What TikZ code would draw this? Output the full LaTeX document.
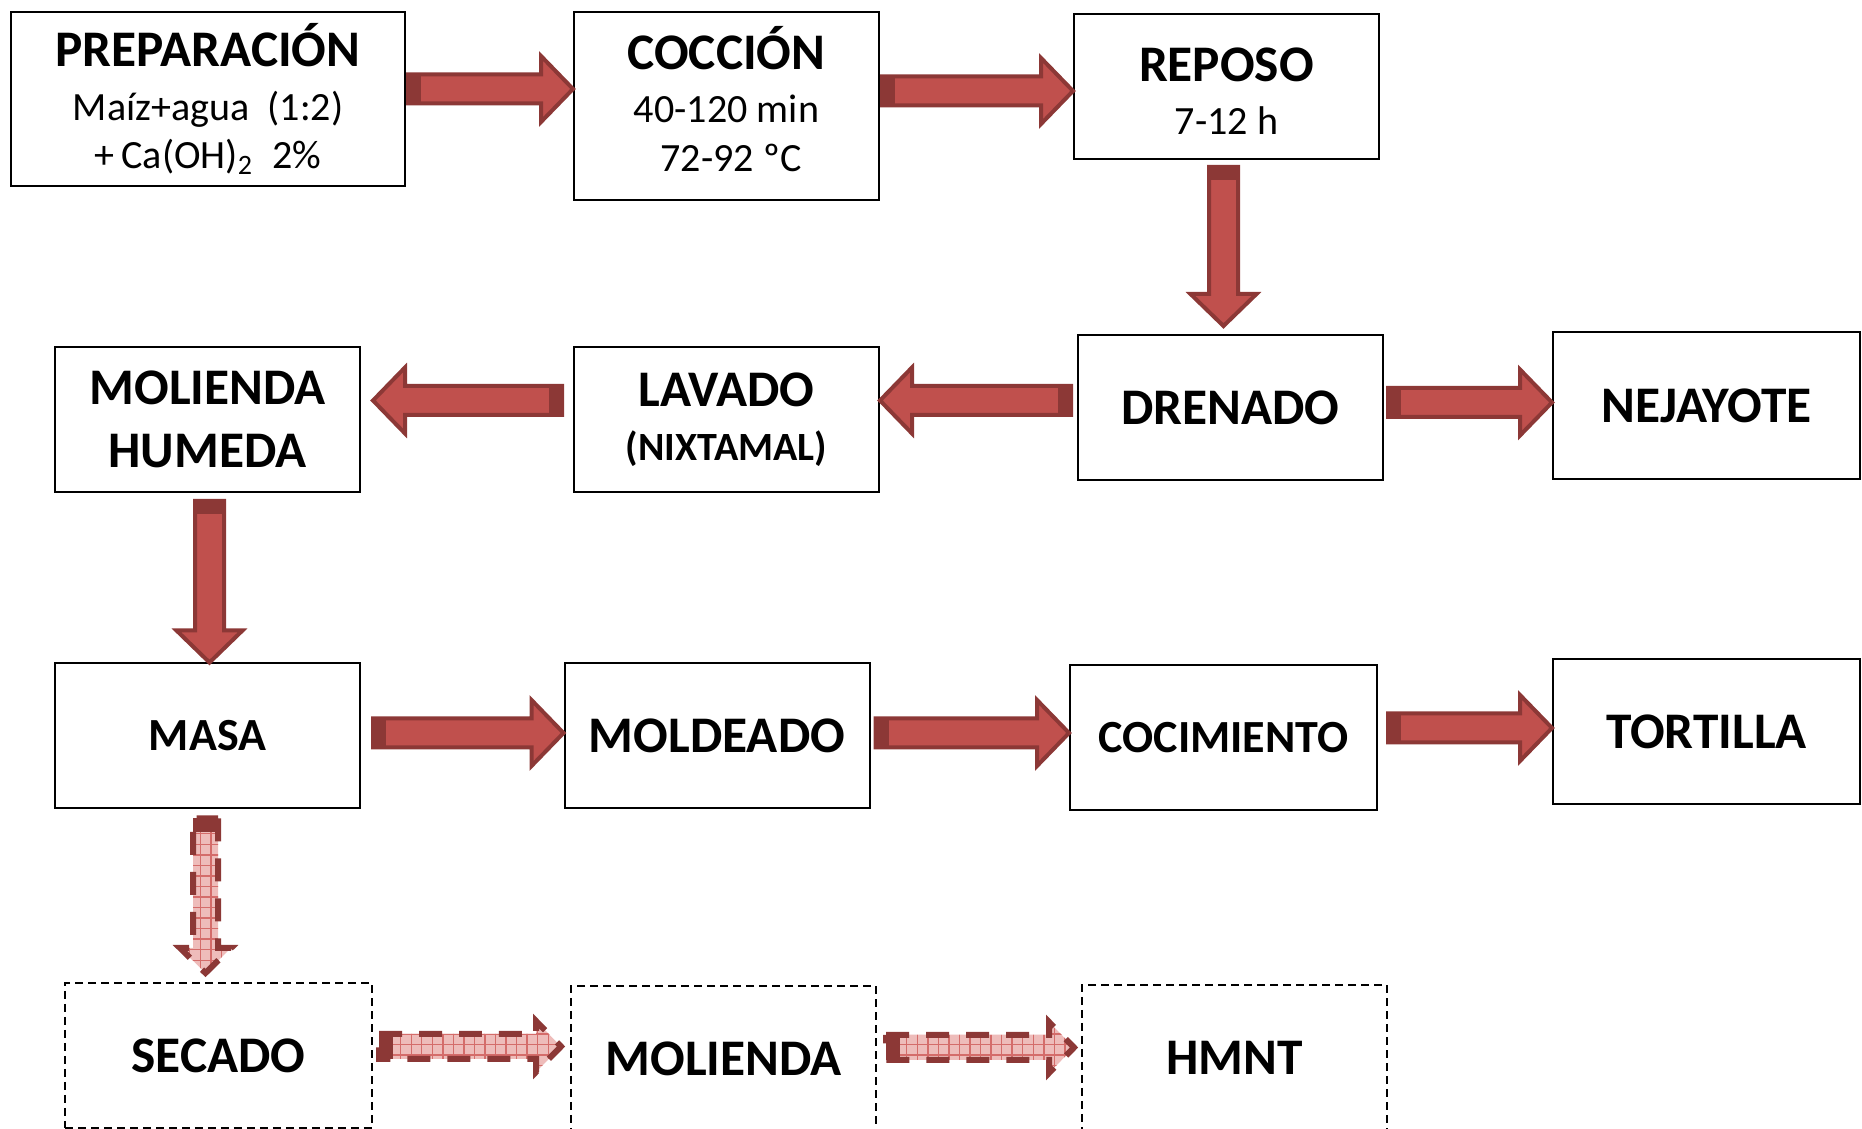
\documentclass[tikz,border=0pt]{standalone}
\usepackage{fontspec}
\setmainfont{Carlito}
\usetikzlibrary{calc, patterns, positioning}
\definecolor{cArrow}{RGB}{192,80,77}
\definecolor{cEdge}{RGB}{140,56,54}
\definecolor{cPink}{RGB}{238,188,186}
\definecolor{cGrid}{RGB}{212,108,106}

\newcommand{\stagefont}{\fontsize{14.6}{17.9}\selectfont\bfseries}
\newcommand{\notefont}{\fontsize{11.4}{13.9}\selectfont\mdseries}

% fat block arrow: style, shaft half width, head half width, head length, tail cap, start, end
\newcommand{\fatarrow}[7]{%
  \coordinate (fa-s) at #6;
  \coordinate (fa-e) at #7;
  \coordinate (fa-b) at ($(fa-e)!#4!(fa-s)$);
  \coordinate (fa-c) at ($(fa-s)!#5!(fa-e)$);
  \path[#1] ($(fa-s)!#2!90:(fa-e)$) -- ($(fa-b)!#2!90:(fa-e)$) -- ($(fa-b)!#3!90:(fa-e)$) -- (fa-e)
    -- ($(fa-b)!#3!-90:(fa-e)$) -- ($(fa-b)!#2!-90:(fa-e)$) -- ($(fa-s)!#2!-90:(fa-e)$) -- cycle;
  \fill[cEdge] ($(fa-s)!#2!90:(fa-e)$) -- ($(fa-c)!#2!90:(fa-e)$) -- ($(fa-c)!#2!-90:(fa-e)$) -- ($(fa-s)!#2!-90:(fa-e)$) -- cycle;
}
\newcommand{\solidarrow}[2]{\fatarrow{bigarrow}{1.45mm}{3.3mm}{3.2mm}{1.3mm}{#1}{#2}}
\newcommand{\dashedarrow}[2]{\fatarrow{altarrow}{1.25mm}{2.55mm}{2.5mm}{1.4mm}{#1}{#2}}

\begin{document}
\begin{tikzpicture}[x=0.1mm, y=-0.1mm, font=\stagefont]

    \tikzstyle{stage} = [draw=black, line width=0.2mm, minimum width=30.5mm, minimum height=14.5mm, inner sep=0pt, align=center]
    \tikzstyle{altstage} = [stage, dash pattern=on 0.8mm off 0.5mm]
    \tikzstyle{bigarrow} = [fill=cArrow, draw=cEdge, line width=0.4mm, line join=miter]
    \tikzstyle{altarrow} = [preaction={fill=cPink}, pattern=grid, pattern color=cGrid, draw=cEdge, line width=0.6mm, dash pattern=on 2.3mm off 1.7mm]

    \useasboundingbox (0,0) rectangle (1862,1129);

    % Row 1
    \node[stage, minimum width=39.4mm, minimum height=17.4mm, font=\notefont] (prep) at (208,99) {{\stagefont PREPARACIÓN}\rule{0pt}{11pt}\\[1.4pt] Maíz+agua~ (1:2)\\ +\,Ca(OH)\textsubscript{2}~ 2\%};
    \node[stage, minimum height=18.8mm, font=\notefont] (cocc) at (726.5,106) {{\stagefont COCCIÓN}\\[1.4pt] 40-120 min\\ ~72-92 ºC\rule[-4pt]{0pt}{4pt}};
    \node[stage, font=\notefont] (repo) at (1226.5,86.5) {{\stagefont REPOSO}\rule{0pt}{12.2pt}\\[1.4pt] 7-12 h};

    % Row 2
    \node[stage] (mhum) at (207.5,419.5) {MOLIENDA\\ HUMEDA};
    \node[stage, font=\notefont\bfseries] (lava) at (726.5,419.5) {{\stagefont LAVADO}\\[1.6pt] (NIXTAMAL)};
    \node[stage] (dren) at (1230.5,407.5) {DRENADO};
    \node[stage, minimum width=30.7mm, minimum height=14.7mm] (neja) at (1706.5,406) {NEJAYOTE};

    % Row 3
    \node[stage, font=\fontsize{13.1}{15}\selectfont\bfseries] (masa) at (207.5,736) {MASA};
    \node[stage] (mold) at (717,736) {MOLDEADO};
    \node[stage, minimum width=30.7mm, font=\fontsize{13.1}{15}\selectfont\bfseries] (coci) at (1223.5,738) {COCIMIENTO};
    \node[stage, minimum width=30.7mm] (tort) at (1706.5,732) {TORTILLA};

    % Row 4 (alternative route)
    \node[altstage, minimum width=30.7mm] (seca) at (218.5,1055.5) {SECADO};
    \node[altstage] (moli) at (723.5,1058.5) {MOLIENDA};
    \node[altstage] (hmnt) at (1234.5,1057.5) {HMNT};

    % Main flow
    \coordinate (a1) at ($(prep.east)+(2,-10)$);
    \solidarrow{(a1)}{(a1 -| cocc.west)}
    \coordinate (a2) at ($(cocc.east)+(2,-15)$);
    \solidarrow{(a2)}{(a2 -| repo.west)}
    \coordinate (a3) at ($(repo.south)+(-3,7)$);
    \solidarrow{(a3)}{($(a3 |- dren.north)+(0,-8)$)}
    \coordinate (a4) at ($(dren.west)+(-6,-7)$);
    \solidarrow{(a4)}{(a4 -| lava.east)}
    \coordinate (a5) at ($(lava.west)+(-11,-19)$);
    \solidarrow{(a5)}{($(a5 -| mhum.east)+(12,0)$)}
    \coordinate (a6) at ($(dren.east)+(4,-5)$);
    \solidarrow{(a6)}{(a6 -| neja.west)}
    \coordinate (a7) at ($(mhum.south)+(2,8)$);
    \solidarrow{(a7)}{(a7 |- masa.north)}
    \coordinate (a8) at ($(masa.east)+(12,-3)$);
    \solidarrow{(a8)}{(a8 -| mold.west)}
    \coordinate (a9) at ($(mold.east)+(5,-3)$);
    \solidarrow{(a9)}{(a9 -| coci.west)}
    \coordinate (a10) at ($(coci.east)+(10,-10)$);
    \solidarrow{(a10)}{(a10 -| tort.west)}

    % Dashed route
    \coordinate (a11) at ($(masa.south)+(-2,9)$);
    \dashedarrow{(a11)}{($(a11 |- seca.north)+(0,-9)$)}
    \coordinate (a12) at ($(seca.east)+(6,-9)$);
    \dashedarrow{(a12)}{($(a12 -| moli.west)+(-9,0)$)}
    \coordinate (a13) at ($(moli.east)+(9,-11)$);
    \dashedarrow{(a13)}{($(a13 -| hmnt.west)+(-7,0)$)}
\end{tikzpicture}
\end{document}
